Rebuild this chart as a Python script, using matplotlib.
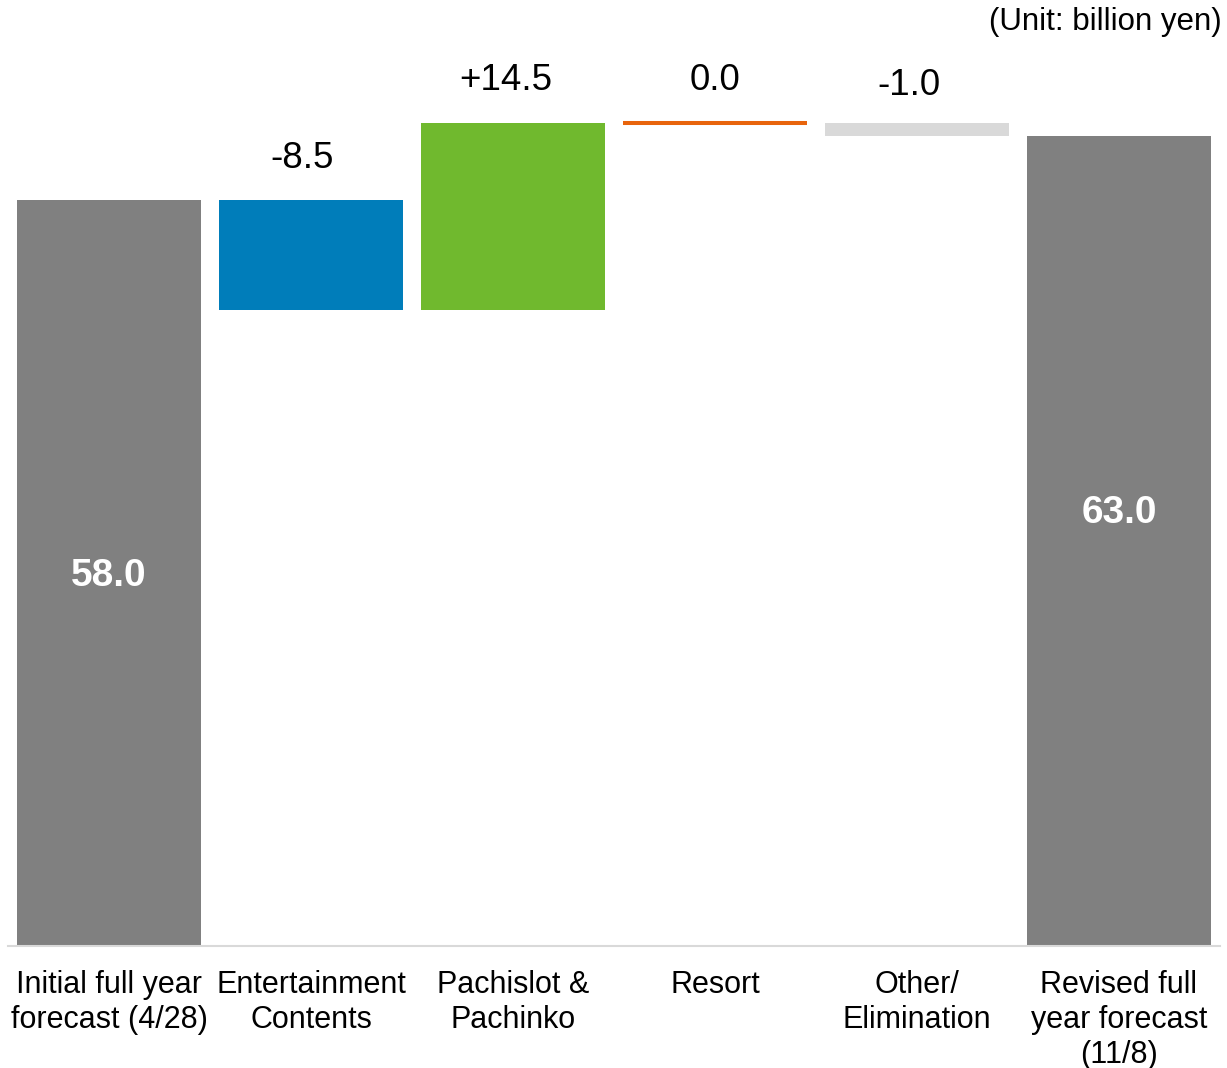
import matplotlib.pyplot as plt

plt.rcParams['font.family'] = ['Liberation Sans', 'DejaVu Sans']

categories = ["Initial full year\nforecast (4/28)", "Entertainment\nContents", "Pachislot &\nPachinko",
              "Resort", "Other/\nElimination", "Revised full\nyear forecast\n(11/8)"]
start_total = 58.0
changes = [-8.5, 14.5, 0.0, -1.0]
end_total = 63.0
change_colors = ['#007DBA', '#70B92E', '#E8640C', '#D9D9D9']
total_color = '#808080'

fig = plt.figure(figsize=(12.27, 10.68), dpi=100)
ax = fig.add_axes([8 / 1227, 122 / 1068, 1212 / 1227, 900 / 1068])
ax.set_xlim(-0.5, 5.5)
ax.set_ylim(0, 70)

w = 0.91
# totals
ax.bar(0, start_total, width=w, color=total_color)
ax.bar(5, end_total, width=w, color=total_color)
ax.text(0, start_total * 0.5 - 0.2, f"{start_total:.1f}", ha='center', va='center',
        color='white', fontsize=28, fontweight='bold')
ax.text(5, end_total * 0.538 - 0.2, f"{end_total:.1f}", ha='center', va='center',
        color='white', fontsize=28, fontweight='bold')

# label nudges (points): the signed labels sit a little left of centre
dx = [-6.5, -5, 0, -6]
dy = [23, 24, 24, 20]
level = start_total
for i, (c, col) in enumerate(zip(changes, change_colors), start=1):
    new = level + c
    if c == 0:
        ax.hlines(level, i - w / 2, i + w / 2, color=col, linewidth=2.9)
    else:
        ax.bar(i, new - level, bottom=level, width=w, color=col)
    top = max(level, new)
    lab = f"+{c:.1f}" if c > 0 else f"{c:.1f}"
    ax.annotate(lab, (i, top), xytext=(dx[i - 1], dy[i - 1]), textcoords='offset points',
                ha='center', va='baseline', fontsize=26.5, color='black')
    level = new

for s in ['top', 'right', 'left']:
    ax.spines[s].set_visible(False)
ax.spines['bottom'].set_color('#D9D9D9')
ax.spines['bottom'].set_linewidth(1.5)
ax.set_yticks([])
ax.set_xticks(range(6))
ax.set_xticklabels(categories, fontsize=22, linespacing=1.22)
ax.tick_params(axis='x', length=0, pad=17.5)

fig.text(1222 / 1227, 1 - 22 / 1068, "(Unit: billion yen)", ha='right', va='center', fontsize=22.5)

fig.savefig('out.png', dpi=100)
